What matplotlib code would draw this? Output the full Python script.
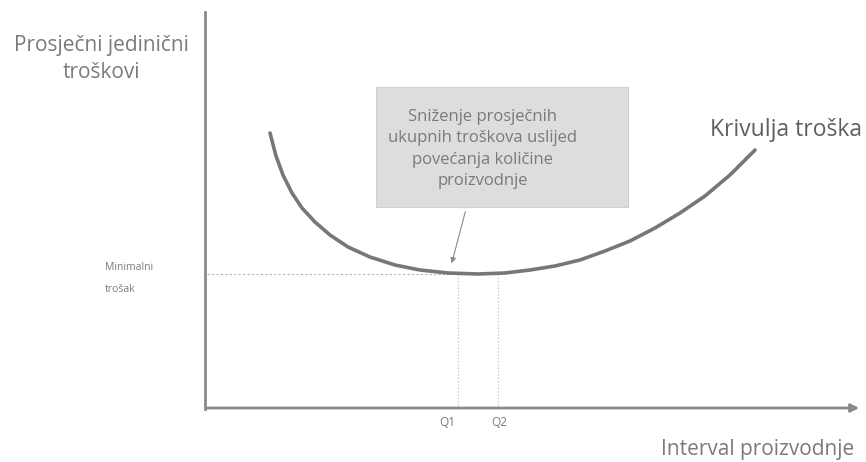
import matplotlib.pyplot as plt
from matplotlib.patches import Rectangle, FancyArrowPatch

# Curve (pixel-like coordinates, y downwards)
curve_x = [270, 276, 283, 292, 302, 315, 330, 348, 370, 395, 420, 448, 478,
           505, 530, 555, 580, 605, 630, 655, 680, 705, 730, 755]
curve_y = [133, 156, 175, 193, 208, 222, 235, 247, 257, 265, 270, 273, 274,
           273, 270, 266, 260, 251, 241, 228, 213, 196, 175, 150]

min_cost = 274
q_positions = [458, 498]
q_labels = ['Q1', 'Q2']

y_title = ['Prosječni jedinični', 'troškovi']
box_text = 'Sniženje prosječnih\nukupnih troškova uslijed\npovećanja količine\nproizvodnje'

font = ['Open Sans', 'DejaVu Sans']
grey = '#7a7a7a'

fig = plt.figure(figsize=(8.66, 4.62), dpi=100)
ax = fig.add_axes([0, 0, 1, 1])
ax.set_xlim(0, 866)
ax.set_ylim(462, 0)
ax.axis('off')

# Axes of the diagram
ax.plot([205, 205], [12, 409], color='#8a8a8a', lw=2)
ax.annotate('', xy=(862, 408), xytext=(204, 408),
            arrowprops=dict(arrowstyle='-|>', color='#8a8a8a', lw=2,
                            mutation_scale=12))

# Reference lines
ax.plot([207, curve_x[curve_y.index(min_cost)]], [min_cost, min_cost],
        color='#b5b5b5', lw=0.8, linestyle=(0, (2, 2)))
for q in q_positions:
    ax.plot([q, q], [min_cost, 407], color='#b5b5b5', lw=0.8, linestyle=(0, (1, 2)))

# Cost curve
ax.plot(curve_x, curve_y, color='#777777', lw=2.6, solid_capstyle='round')

# Box with explanation
ax.add_patch(Rectangle((376, 87), 252, 120, facecolor='#dddddd',
                       edgecolor='#d0d0d0', lw=0.8))
ax.text(483, 149, box_text, ha='center', va='center', fontsize=12,
        color=grey, family=font, linespacing=1.45)
ax.add_patch(FancyArrowPatch((466, 209), (451, 266), arrowstyle='-|>',
                             mutation_scale=8, color='#8a8a8a', lw=0.8))

# Labels
ax.text(101, 45, y_title[0], ha='center', va='center', fontsize=15,
        color=grey, family=font)
ax.text(101, 73, y_title[1], ha='center', va='center', fontsize=15,
        color=grey, family=font)
ax.text(786, 130, 'Krivulja troška', ha='center', va='center', fontsize=16.5,
        color='#606060', family=font)
ax.text(105, 268, 'Minimalni', ha='left', va='center', fontsize=7.5,
        color=grey, family=font)
ax.text(105, 289, 'trošak', ha='left', va='center', fontsize=7.5,
        color=grey, family=font)
ax.text(758, 450, 'Interval proizvodnje', ha='center', va='center',
        fontsize=15, color=grey, family=font)
for q, lab in zip([447, 499], q_labels):
    ax.text(q, 423, lab, ha='center', va='center', fontsize=8.5,
            color=grey, family=font)

fig.savefig('out.png', dpi=100)
